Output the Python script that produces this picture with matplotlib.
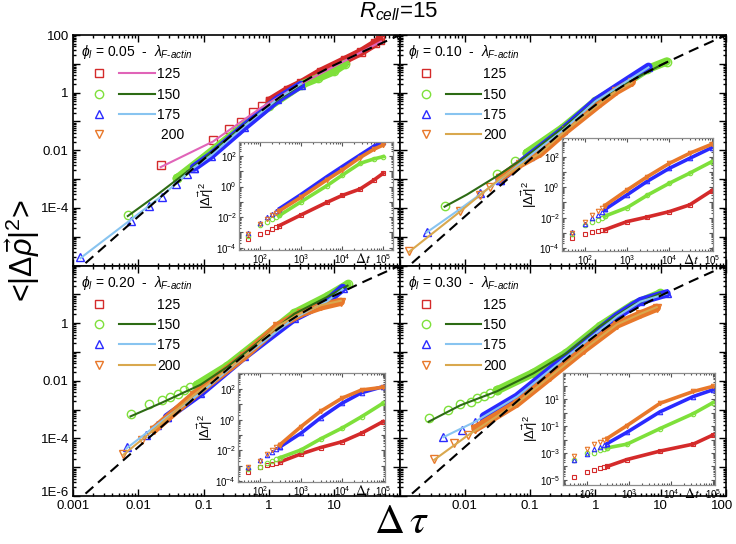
import numpy as np
import matplotlib
matplotlib.use("Agg")
import matplotlib.pyplot as plt
from matplotlib.lines import Line2D
from matplotlib.legend_handler import HandlerTuple
from matplotlib.ticker import FixedLocator, FuncFormatter, LogLocator, NullFormatter
import matplotlib.transforms as mtransforms

plt.rcParams['font.family'] = ['Liberation Sans', 'DejaVu Sans']
plt.rcParams['mathtext.fontset'] = 'custom'
plt.rcParams['mathtext.rm'] = 'Liberation Sans'
plt.rcParams['mathtext.it'] = 'Liberation Sans:italic'
plt.rcParams['mathtext.bf'] = 'Liberation Sans:bold'
plt.rcParams['mathtext.fallback'] = 'stixsans'

# ---------------- donnees ----------------
lams = [125, 150, 175, 200]

# courbe theorique (tirets)
tau_dash = [0.001, 0.003, 0.01, 0.03, 0.1, 0.3, 0.5, 0.7, 1, 1.5, 2, 3, 5, 10, 30, 100]
msd_dash = [5e-7, 4.5e-6, 5e-5, 4.4e-4, 4.8e-3, 0.041, 0.107, 0.197, 0.37, 0.72, 1.14, 2.05, 4.0, 9.0, 29, 99]

# phi = 0.05 : points isoles, bande dense, ajustement
pts_05 = {125: ([0.022, 0.139, 0.245, 0.37, 0.58, 0.78, 1.03], [3.0e-3, 0.022, 0.055, 0.093, 0.21, 0.35, 0.52]),
          150: ([0.0069, 0.039], [5.6e-5, 1.05e-3]),
          175: ([0.0013, 0.0078, 0.0148, 0.023, 0.038, 0.055, 0.071], [1.9e-6, 3.5e-5, 1.2e-4, 2.3e-4, 6.8e-4, 1.45e-3, 2.5e-3])}
band_05 = {125: ([1.03, 1.95, 3.1, 6.3, 14.5, 26, 42, 50], [0.52, 1.26, 2.1, 5.4, 13.5, 26, 51, 68]),
           150: ([0.039, 0.1, 0.32, 1.0, 3.1, 5.6, 10, 14.5], [1.05e-3, 5.5e-3, 0.045, 0.33, 1.86, 3.2, 5.6, 9.8]),
           175: ([0.071, 0.129, 0.42, 1.35, 3.1], [2.5e-3, 6.5e-3, 0.065, 0.58, 1.86])}
fit_05 = {125: ([0.022, 0.139, 0.76, 3.1, 14.5, 52], [2.6e-3, 0.020, 0.30, 2.0, 12.6, 59]),
          150: ([0.0069, 0.018, 0.04, 0.1, 0.32, 1.0, 3.1], [5.2e-5, 2.5e-4, 1.0e-3, 5.0e-3, 0.045, 0.35, 1.9]),
          175: ([0.0013, 0.0078, 0.023, 0.071, 0.129, 0.42, 1.35, 3.1], [1.8e-6, 4e-5, 2.6e-4, 2.5e-3, 6.5e-3, 0.068, 0.6, 2.0])}

# phi = 0.10
pts_10 = {150: ([0.0049, 0.031, 0.059, 0.089], [1.15e-4, 1.45e-3, 4.2e-3, 8.1e-3]),
          175: ([0.0026, 0.017, 0.034], [1.5e-5, 3.3e-4, 9.5e-4]),
          200: ([0.00138, 0.0085, 0.017, 0.024, 0.034], [3.2e-6, 7.8e-5, 2.75e-4, 5.4e-4, 1.05e-3])}
band_10 = {150: ([0.089, 0.32, 1.0, 3.2, 6.2, 12.3], [8.1e-3, 0.06, 0.5, 2.5, 6.5, 12]),
           175: ([0.034, 0.1, 0.32, 1.0, 3.2, 6.5], [9.5e-4, 6.5e-3, 0.05, 0.5, 2.8, 7.9]),
           200: ([0.034, 0.07, 0.143, 0.36, 1.17, 2.1, 3.6], [1.05e-3, 3.3e-3, 8e-3, 0.05, 0.42, 1.15, 2.3])}
fit_10 = {150: ([0.0049, 0.0108, 0.031, 0.089, 0.32, 1.0, 3.2, 12], [1.1e-4, 2.9e-4, 1.26e-3, 6.3e-3, 0.06, 0.5, 2.4, 11]),
          175: ([0.0026, 0.0078, 0.034, 0.1, 0.32, 1.0, 3.2, 6.5], [1.4e-5, 8e-5, 9e-4, 6.5e-3, 0.05, 0.5, 2.7, 7.5]),
          200: ([0.00138, 0.0085, 0.034, 0.143, 0.36, 1.17, 2.1, 3.6], [2.9e-6, 7.5e-5, 1.0e-3, 8e-3, 0.05, 0.42, 1.15, 2.2])}

# phi = 0.20
pts_20 = {150: ([0.0076, 0.0148, 0.023, 0.031, 0.040, 0.050, 0.063, 0.079], [7.1e-4, 1.5e-3, 2.2e-3, 2.8e-3, 3.5e-3, 4.6e-3, 6.0e-3, 7.2e-3]),
          175: ([0.0066, 0.0132, 0.0195, 0.0275], [5.1e-5, 1.3e-4, 2.95e-4, 5.5e-4]),
          200: ([0.0059, 0.0115, 0.0174], [2.9e-5, 8.9e-5, 2.0e-4])}
band_20 = {150: ([0.079, 0.23, 0.76, 2.45, 7.9, 16], [7.2e-3, 0.032, 0.27, 2.2, 8.5, 22]),
           175: ([0.0275, 0.089, 0.42, 2.45, 7.9, 13.5], [5.5e-4, 3.7e-3, 0.071, 1.5, 5.8, 16.6]),
           200: ([0.0174, 0.071, 0.42, 1.35, 3.1, 6.3, 12.6], [2.0e-4, 3.2e-3, 0.071, 0.78, 2.2, 3.8, 5.5])}
fit_20 = {150: ([0.0076, 0.022, 0.089, 0.23, 0.76, 2.45, 7.9, 16], [5.8e-4, 1.66e-3, 7.2e-3, 0.03, 0.26, 2.1, 8.2, 20]),
          175: ([0.0066, 0.0275, 0.089, 0.42, 2.45, 7.9, 13.5], [4.5e-5, 5.5e-4, 3.7e-3, 0.07, 1.5, 5.8, 15]),
          200: ([0.0059, 0.0174, 0.071, 0.42, 1.35, 3.1, 6.3, 12.6], [2.7e-5, 2.0e-4, 3.2e-3, 0.07, 0.78, 2.2, 4.2, 6.0])}

# phi = 0.30
pts_30 = {150: ([0.0028, 0.0056, 0.0085, 0.0123, 0.0155, 0.0195, 0.0245, 0.031], [5.0e-4, 9.8e-4, 1.5e-3, 1.9e-3, 2.5e-3, 3.0e-3, 3.7e-3, 4.6e-3]),
          175: ([0.0047, 0.0091, 0.0141, 0.0195], [1.15e-4, 2.0e-4, 3.8e-4, 5.8e-4]),
          200: ([0.0034, 0.0068, 0.011, 0.0145], [2.0e-5, 6.8e-5, 1.3e-4, 2.2e-4])}
band_30 = {150: ([0.031, 0.112, 0.36, 1.17, 3.8, 9.8], [4.6e-3, 0.0186, 0.091, 0.78, 4.4, 10.7]),
           175: ([0.0195, 0.063, 0.204, 0.66, 2.14, 4.9, 12.3], [5.8e-4, 2.8e-3, 0.024, 0.204, 1.74, 5.8, 10.7]),
           200: ([0.0145, 0.063, 0.204, 0.66, 2.14, 4.9, 8.7], [2.2e-4, 1.66e-3, 0.014, 0.12, 0.89, 2.0, 3.4])}
fit_30 = {150: ([0.0028, 0.0085, 0.031, 0.112, 0.36, 1.17, 3.8, 9.8], [3.8e-4, 1.4e-3, 4.3e-3, 0.018, 0.09, 0.78, 4.3, 10.5]),
          175: ([0.0047, 0.0141, 0.063, 0.204, 0.66, 2.14, 4.9, 12.3], [1.1e-4, 3.7e-4, 2.8e-3, 0.024, 0.2, 1.7, 5.6, 10.5]),
          200: ([0.0034, 0.011, 0.063, 0.204, 0.66, 2.14, 4.9, 8.7], [1.8e-5, 1.25e-4, 1.66e-3, 0.014, 0.12, 0.9, 2.1, 3.6])}

# encarts : |dr|^2 en fonction de dt
ins_dt = [50, 100, 150, 200, 250, 300]
ins_05 = {125: [3.6e-4, 7.6e-4, 1.1e-3, 1.7e-3, 2.2e-3, 2.8e-3],
          150: [6.2e-4, 3.1e-3, 5.1e-3, 7.6e-3, 0.010, 0.013],
          175: [8.9e-4, 4.4e-3, 0.010, 0.017, 0.026, 0.036],
          200: [7.9e-4, 3.5e-3, 8e-3, 0.013, 0.019, 0.026]}
ins_band_dt_05 = [300, 1000, 4300, 10000, 27500, 60000, 100000]
ins_band_05 = {125: [2.8e-3, 0.0138, 0.093, 0.26, 0.69, 2.7, 7.4],
               150: [0.013, 0.1, 1.15, 5.5, 33, 65, 91],
               175: [0.036, 0.3, 4.5, 20, 117, 450, 850],
               200: [0.026, 0.2, 2.8, 12, 80, 280, 525]}

ins_10 = {125: [4.4e-4, 7.9e-4, 1.1e-3, 1.3e-3, 1.5e-3, 1.6e-3],
          150: [7.9e-4, 3.3e-3, 5e-3, 7e-3, 0.01, 0.0126],
          175: [1.2e-3, 3.6e-3, 9.1e-3, 0.016, 0.025, 0.035],
          200: [1.0e-3, 5.5e-3, 0.015, 0.028, 0.045, 0.063]}
ins_band_dt_10 = [300, 1000, 3000, 10000, 30000, 100000]
ins_band_10 = {125: [1.6e-3, 5.5e-3, 0.011, 0.025, 0.069, 0.60],
               150: [0.0126, 0.046, 0.3, 1.86, 8.5, 49],
               175: [0.035, 0.32, 2.5, 18, 81, 410],
               200: [0.063, 0.66, 5, 38, 174, 690]}

ins_20 = {125: [4.1e-4, 8.5e-4, 1.1e-3, 1.3e-3, 1.5e-3, 1.7e-3],
          150: [5.8e-4, 7.8e-4, 1.4e-3, 2.0e-3, 2.6e-3, 3.2e-3],
          175: [8.5e-4, 2.3e-3, 5e-3, 8e-3, 0.012, 0.016],
          200: [7.9e-4, 2.1e-3, 6e-3, 0.01, 0.016, 0.022]}
ins_band_dt_20 = [300, 1000, 3000, 10000, 30000, 100000]
ins_band_20 = {125: [1.7e-3, 5.8e-3, 0.015, 0.036, 0.13, 0.74],
               150: [3.2e-3, 0.0105, 0.055, 0.28, 1.55, 11.7],
               175: [0.016, 0.13, 1.3, 11.7, 57, 141],
               200: [0.022, 0.35, 3.5, 25, 86, 129]}

ins_30 = {125: [1.8e-5, 3.9e-5, 5.8e-5, 7.2e-5, 8.5e-5, 1.0e-4],
          150: [2.8e-4, 9.5e-4, 1.07e-3, 1.7e-3, 2.0e-3, 2.4e-3],
          175: [3.3e-4, 7.9e-4, 1.9e-3, 2.8e-3, 3.8e-3, 5e-3],
          200: [5.9e-4, 1.9e-3, 4.6e-3, 7e-3, 9e-3, 0.012]}
ins_band_dt_30 = [300, 900, 5500, 34000, 100000]
ins_band_30 = {125: [1.0e-4, 3.3e-4, 1.4e-3, 4.6e-3, 0.022],
               150: [2.4e-3, 4.6e-3, 0.066, 0.85, 5.6],
               175: [5e-3, 0.035, 1.17, 16, 51],
               200: [0.012, 0.11, 5.0, 38, 91]}

# ---------------- styles ----------------
col = {125: '#d42a2a', 150: '#7ee03a', 175: '#2a2aff', 200: '#e8782a'}
mk = {125: 's', 150: 'o', 175: '^', 200: 'v'}
fitcol = {125: '#e064b8', 150: '#2d6b14', 175: '#88c4f0', 200: '#d9a84e'}

xlab = {-3: '0.001', -2: '0.01', -1: '0.1', 0: '1', 1: '10', 2: '100'}
ylab = {2: '100', 0: '1', -2: '0.01', -4: '1E-4', -6: '1E-6'}


def decade(v):
    return int(round(np.log10(v)))


def style_main(ax, xshow, yshow):
    ax.set_xscale('log')
    ax.set_yscale('log')
    ax.set_xlim(1e-3, 1e2)
    ax.set_ylim(1e-6, 1e2)
    ax.xaxis.set_major_locator(FixedLocator([10.0 ** k for k in range(-3, 3)]))
    ax.yaxis.set_major_locator(FixedLocator([10.0 ** k for k in range(-6, 3)]))
    ax.xaxis.set_minor_locator(LogLocator(subs=np.arange(2, 10), numticks=30))
    ax.yaxis.set_minor_locator(LogLocator(subs=np.arange(2, 10), numticks=30))
    ax.xaxis.set_minor_formatter(NullFormatter())
    ax.yaxis.set_minor_formatter(NullFormatter())
    ax.xaxis.set_major_formatter(FuncFormatter(lambda v, p: xlab.get(decade(v), '') if decade(v) in xshow else ''))
    ax.yaxis.set_major_formatter(FuncFormatter(lambda v, p: ylab.get(decade(v), '') if decade(v) in yshow else ''))
    ax.tick_params(which='both', direction='in', top=True, right=True, width=1, labelsize=9.5, pad=3)
    ax.tick_params(which='major', length=5)
    ax.tick_params(which='minor', length=2.5)
    for s in ax.spines.values():
        s.set_linewidth(1.2)


def draw_main(ax, pts, band, fit):
    for lam in lams:
        if lam in band:
            bx, by = band[lam]
            ax.plot(bx, by, '-', color=col[lam], lw=6, solid_capstyle='round', zorder=2)
            ax.plot(bx, by, linestyle='none', marker=mk[lam], ms=6, mfc='none', mec=col[lam], mew=1, zorder=2)
        if lam in pts:
            px, py = pts[lam]
            ax.plot(px, py, linestyle='none', marker=mk[lam], ms=6, mfc='none', mec=col[lam], mew=1, zorder=2)
    for lam in lams:
        if lam in fit:
            fx, fy = fit[lam]
            ax.plot(fx, fy, color=fitcol[lam], lw=1.5, zorder=3)
    ax.plot(tau_dash, msd_dash, color='k', lw=1.5, dashes=(5, 3), zorder=4)


def add_legend(ax, phi, fit, labels):
    handles = []
    for lam in lams:
        m = Line2D([], [], linestyle='none', marker=mk[lam], ms=6, mfc='none', mec=col[lam], mew=1)
        if lam in fit:
            l = Line2D([], [], color=fitcol[lam], lw=1.5)
        else:
            l = Line2D([], [], linestyle='none')
        handles.append((m, l))
    title = r'$\phi_l$ = ' + phi + r'  -  $\lambda_{F\text{-}actin}$'
    ax.legend(handles, labels, handler_map={tuple: HandlerTuple(ndivide=None, pad=0.15)},
              loc='upper left', bbox_to_anchor=(0.025, 0.965), borderaxespad=0, borderpad=0,
              frameon=False, handlelength=5.3, handletextpad=0.15, labelspacing=0.45,
              fontsize=10, title=title, title_fontsize=10, alignment='left')


ins_fmt = {1: r'$10^{1}$', -1: r'$10^{-1}$', -3: r'$10^{-3}$', -5: r'$10^{-5}$',
           2: r'$10^{2}$', 0: r'$10^{0}$', -2: r'$10^{-2}$', -4: r'$10^{-4}$',
           3: r'$10^{3}$', 4: r'$10^{4}$', 5: r'$10^{5}$'}


def draw_inset(rect, sp, bdt, bd, xlim, ylim, yshow):
    ia = fig.add_axes(rect)
    for lam in lams:
        ia.plot(bdt, bd[lam], '-', color=col[lam], lw=2.6, zorder=2)
        ia.plot(bdt, bd[lam], linestyle='none', marker=mk[lam], ms=3.2, mfc='none', mec=col[lam], mew=0.8, zorder=2)
        ia.plot(ins_dt, sp[lam], linestyle='none', marker=mk[lam], ms=3.2, mfc='none', mec=col[lam], mew=0.8, zorder=2)
    ia.set_xscale('log')
    ia.set_yscale('log')
    ia.set_xlim(*xlim)
    ia.set_ylim(*ylim)
    ia.xaxis.set_major_locator(FixedLocator([10.0 ** k for k in range(1, 6)]))
    ia.yaxis.set_major_locator(FixedLocator([10.0 ** k for k in range(-6, 4)]))
    ia.xaxis.set_minor_locator(LogLocator(subs=np.arange(2, 10), numticks=30))
    ia.yaxis.set_minor_locator(LogLocator(subs=np.arange(2, 10), numticks=30))
    ia.xaxis.set_minor_formatter(NullFormatter())
    ia.yaxis.set_minor_formatter(NullFormatter())
    ia.xaxis.set_major_formatter(FuncFormatter(lambda v, p: ins_fmt[decade(v)] if decade(v) in (2, 3, 4, 5) else ''))
    ia.yaxis.set_major_formatter(FuncFormatter(lambda v, p: ins_fmt[decade(v)] if decade(v) in yshow else ''))
    ia.tick_params(which='both', direction='in', top=True, right=True, width=0.8, color='#555555', labelsize=7, pad=1.5)
    ia.tick_params(which='major', length=3)
    ia.tick_params(which='minor', length=1.5)
    for s in ia.spines.values():
        s.set_color('#8c8c8c')
        s.set_linewidth(0.9)
    ia.set_ylabel(r'|$\Delta\vec{r}$|$^2$', fontsize=9.5, labelpad=0)
    tr = mtransforms.blended_transform_factory(ia.transData, ia.transAxes)
    ia.text(3.2e4, -0.015, r'$\Delta t$', transform=tr, ha='center', va='top', fontsize=10, math_fontfamily='stix')
    return ia


# ---------------- figure ----------------
fig, axs = plt.subplots(2, 2, figsize=(7.36, 5.44), dpi=100)
fig.subplots_adjust(left=73 / 736, right=726 / 736, top=1 - 35 / 544, bottom=1 - 496 / 544, wspace=0, hspace=0)

panels = [
    (axs[0, 0], '0.05', pts_05, band_05, fit_05, [], [2, 0, -2, -4], ['125', '150', '175', ' 200']),
    (axs[0, 1], '0.10', pts_10, band_10, fit_10, [], [], ['125', '150', '175', '200']),
    (axs[1, 0], '0.20', pts_20, band_20, fit_20, [-3, -2, -1, 0, 1], [0, -2, -4, -6], ['125', '150', '175', '200']),
    (axs[1, 1], '0.30', pts_30, band_30, fit_30, [-2, -1, 0, 1, 2], [], ['125', '150', '175', '200']),
]
for ax, phi, pts, band, fit, xshow, yshow, labels in panels:
    draw_main(ax, pts, band, fit)
    style_main(ax, xshow, yshow)
    add_legend(ax, phi, fit, labels)

W, H = 736, 544
draw_inset([239 / W, 1 - 250 / H, 154 / W, 108 / H], ins_05, ins_band_dt_05, ins_band_05, (31, 1.74e5), (7e-5, 830), (2, 0, -2, -4))
draw_inset([562 / W, 1 - 251 / H, 151 / W, 113 / H], ins_10, ins_band_dt_10, ins_band_10, (29, 1.07e5), (6.3e-5, 1780), (2, 0, -2, -4))
draw_inset([238 / W, 1 - 482 / H, 147 / W, 109 / H], ins_20, ins_band_dt_20, ins_band_20, (29, 1.12e5), (8.5e-5, 1100), (2, 0, -2, -4))
draw_inset([563 / W, 1 - 485 / H, 152 / W, 112 / H], ins_30, ins_band_dt_30, ins_band_30, (27, 1.12e5), (4.2e-6, 900), (1, -1, -3, -5))

fig.text(398 / W, 1 - 12 / H, r'$R_{cell}$=15', ha='center', va='center', fontsize=16)
fig.text(23 / W, 1 - 251 / H, r'<|$\Delta\vec{\rho}$|$^2$>', rotation=90, ha='center', va='center', fontsize=22)
fig.text(401 / W, 1 - 522 / H, r'$\Delta\,\tau$', ha='center', va='center', fontsize=30, math_fontfamily='stix')

# petits decalages des etiquettes en coin (comme dans l'original)
fig.canvas.draw()
t = axs[1, 1].xaxis.get_major_ticks()[-1]
t.label1.set_transform(t.label1.get_transform() + mtransforms.ScaledTranslation(-2.5 / 72, 0, fig.dpi_scale_trans))
t = axs[1, 0].yaxis.get_major_ticks()[0]
t.label1.set_transform(t.label1.get_transform() + mtransforms.ScaledTranslation(0, 3 / 72, fig.dpi_scale_trans))

fig.savefig('out.png', dpi=100)
